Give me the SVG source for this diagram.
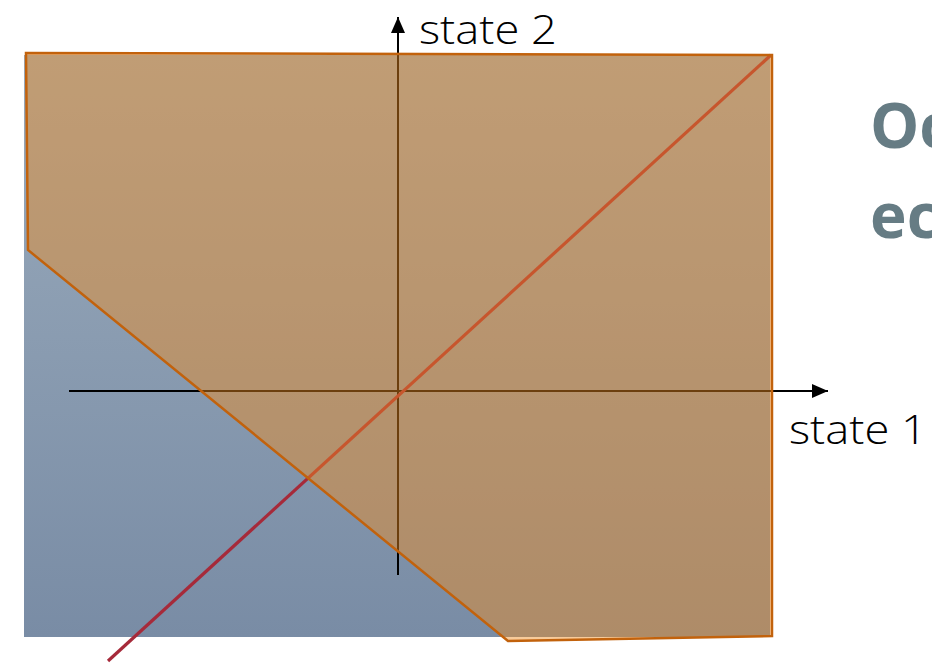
<svg xmlns="http://www.w3.org/2000/svg" width="932" height="664" viewBox="0 0 932 664">
  <defs>
    <linearGradient id="blueGrad" x1="0" y1="0" x2="0" y2="1">
      <stop offset="0" stop-color="#9aabbc"/>
      <stop offset="1" stop-color="#798ca5"/>
    </linearGradient>
    <marker id="arrowBig" viewBox="0 0 16 14" refX="16" refY="7" markerWidth="16" markerHeight="14" markerUnits="userSpaceOnUse" orient="auto">
      <path d="M0,0 L16,7 L0,14 Z" fill="#000"/>
    </marker>
  </defs>
  <style>
    .axis { stroke: #000; stroke-width: 2; fill: none; }
    .label { font-family: "Open Sans", "Liberation Sans", sans-serif; font-weight: 300; font-size: 41px; fill: #000; }
    .title { font-family: "Open Sans", "Liberation Sans", sans-serif; font-weight: 700; font-size: 62px; fill: #667c84; }
  </style>
  <rect width="932" height="664" fill="#ffffff"/>
  <g id="region-blue">
    <rect x="24" y="55" width="746" height="582" fill="url(#blueGrad)"/>
  </g>
  <g id="connectors">
    <line id="axis-x" class="axis" x1="69" y1="391" x2="828" y2="391" marker-end="url(#arrowBig)"/>
    <line id="axis-y" class="axis" x1="398" y1="575" x2="398" y2="17" marker-end="url(#arrowBig)"/>
    <line id="diagonal" x1="108" y1="661" x2="771" y2="55" stroke="#a62a3a" stroke-width="3.2"/>
  </g>
  <g id="region-orange">
    <polygon points="26,53 772,55 772,636 508,641 28,250" fill="#f08c1e" fill-opacity="0.45" stroke="#c2620c" stroke-width="2.5" stroke-linejoin="miter"/>
  </g>
  <g id="label-state2">
    <text class="label" x="419" y="44" textLength="138" lengthAdjust="spacingAndGlyphs">state 2</text>
  </g>
  <g id="label-state1">
    <text class="label" x="789" y="444" textLength="138" lengthAdjust="spacingAndGlyphs">state 1</text>
  </g>
  <g id="title">
    <text class="title" x="870" y="148">Oc</text>
    <text class="title" x="870" y="238">ec</text>
  </g>
</svg>
